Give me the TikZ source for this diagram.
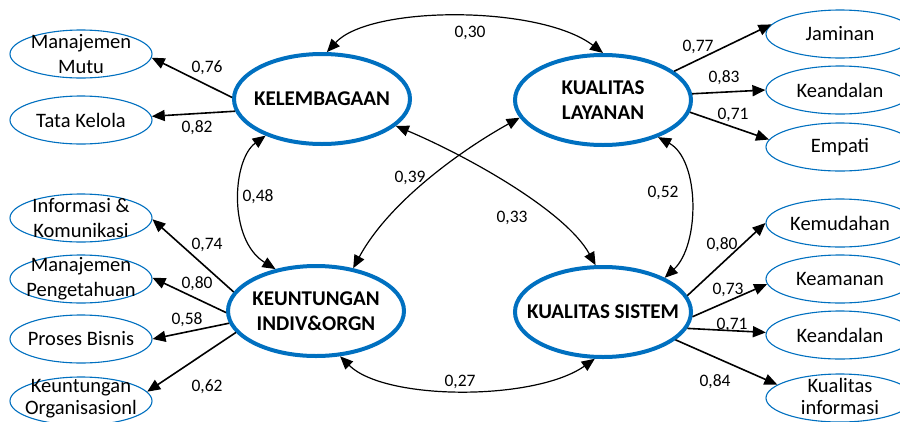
\documentclass[tikz,border=0pt]{standalone}
\usepackage{fontspec}
\setmainfont{Carlito}
\usetikzlibrary{shapes.geometric,arrows.meta}
\definecolor{obl}{RGB}{0,112,192}
\tikzset{
  latent/.style={ellipse,draw=obl,line width=4pt,minimum width=176pt,minimum height=90pt,inner sep=0pt},
  indic/.style={ellipse,draw=obl,line width=1.1pt,minimum width=142pt,minimum height=48pt,inner sep=0pt},
  indicr/.style={ellipse,draw=obl,line width=1.1pt,minimum width=148pt,minimum height=48pt,inner sep=0pt},
  ltext/.style={font=\fontsize{21}{25}\selectfont\bfseries,align=center,inner sep=0pt},
  itext/.style={font=\fontsize{20.5}{25}\selectfont,align=center,inner sep=0pt},
  btext/.style={font=\fontsize{20.5}{22}\selectfont,align=center,inner sep=0pt},
  coef/.style={font=\fontsize{17.5}{20}\selectfont,inner sep=0pt},
  load/.style={line width=1.6pt,-{Triangle[length=13pt,width=11pt]}},
  corr/.style={line width=1.2pt,{Triangle[length=13pt,width=11pt]}-{Triangle[length=13pt,width=11pt]}}
}
\begin{document}
\begin{tikzpicture}[x=1pt,y=-1pt]
\useasboundingbox (0,0) rectangle (900,421);
\clip (0,0) rectangle (900,421);
\fill[white] (0,0) rectangle (900,421);
% latent constructs
\node[latent] (kel) at (322,99) {};
\node[ltext] at (kel) {KELEMBAGAAN};
\node[latent] (kl) at (603,100) {};
\node[ltext] at (kl) {KUALITAS\\LAYANAN};
\node[latent] (keu) at (316,311) {};
\node[ltext] at (keu) {KEUNTUNGAN\\INDIV\&ORGN};
\node[latent] (ks) at (603,312) {};
\node[ltext] at (ks) {KUALITAS SISTEM};
% left indicators
\node[indic] (mm) at (81,54) {};
\node[itext] at (mm) {Manajemen\\Mutu};
\node[indic] (tk) at (81,120) {};
\node[itext] at (tk) {Tata Kelola};
\node[indic] (ik) at (81,218) {};
\node[itext] at (ik) {Informasi \&\\Komunikasi};
\node[indic] (mp) at (81,279) {};
\node[itext] at (mp) {Manajemen\\Pengetahuan};
\node[indic] (pb) at (81,339) {};
\node[itext] at (pb) {Proses Bisnis};
\node[indic] (ko) at (81,401) {};
\node[btext] at ([yshift=2pt]ko) {Keuntungan\\Organisasionl};
% right indicators
\node[indicr] (jam) at (840,34) {};
\node[itext] at (jam) {Jaminan};
\node[indicr] (kd1) at (840,90) {};
\node[itext] at (kd1) {Keandalan};
\node[indicr] (emp) at (840,147) {};
\node[itext] at (emp) {Empati};
\node[indicr] (kmd) at (840,223) {};
\node[itext] at (kmd) {Kemudahan};
\node[indicr] (kam) at (840,279) {};
\node[itext] at (kam) {Keamanan};
\node[indicr] (kd2) at (840,335) {};
\node[itext] at (kd2) {Keandalan};
\node[indicr] (ki) at (840,398) {};
\node[btext] at ([yshift=2pt]ki) {Kualitas\\informasi};
% loadings
\draw[load] (kel.179) -- (mm.-3);
\draw[load] (kel.188) -- (tk.3);
\draw[load] (kl.22) -- (jam.172);
\draw[load] (kl.4.5) -- (kd1.180);
\draw[load] (kl.-8.6) -- (emp.174);
\draw[load] (keu.167) -- (ik.-1);
\draw[load] (keu.181) -- (mp.1);
\draw[load] (keu.188.6) -- (pb.0);
\draw[load] (keu.195.7) -- (ko.8);
\draw[load] (ks.11) -- (kmd.180);
\draw[load] (ks.-3) -- (kam.184);
\draw[load] (ks.-11.7) -- (kd2.178);
\draw[load] (ks.-21) -- (ki.168);
% correlations
\draw[corr] (kel.84) .. controls (370,5) and (540,5) .. (kl.90);
\draw[corr] (keu.298) .. controls (385,401) and (535,401) .. (ks.260);
\draw[corr] (kel.213.5) .. controls (232,160) and (228,240) .. (keu.134);
\draw[corr] (kl.326) .. controls (700,160) and (700,245) .. (ks.29);
\draw[corr] (kel.340) .. controls (465,155) and (565,210) .. (ks.99);
\draw[corr] (kl.192.7) .. controls (465,148) and (390,200) .. (keu.49.5);
% coefficients
\node[coef] (c1) at (207,68) {0,76};
\node[coef] (c2) at (197,128) {0,82};
\node[coef] (c3) at (470,33) {0,30};
\node[coef] (c4) at (698,47) {0,77};
\node[coef] (c5) at (724,78) {0,83};
\node[coef] (c6) at (733,115) {0,71};
\node[coef] (c7) at (258,197) {0,48};
\node[coef] (c8) at (410,178) {0,39};
\node[coef] (c9) at (663,193) {0,52};
\node[coef] (c10) at (512,218) {0,33};
\node[coef] (c11) at (207,245) {0,74};
\node[coef] (c12) at (197,284) {0,80};
\node[coef] (c13) at (187,320) {0,58};
\node[coef] (c14) at (207,387) {0,62};
\node[coef] (c15) at (460,382) {0,27};
\node[coef] (c16) at (722,245) {0,80};
\node[coef] (c17) at (728,290) {0,73};
\node[coef] (c18) at (732,325) {0,71};
\node[coef] (c19) at (715,382) {0,84};
\end{tikzpicture}
\end{document}
